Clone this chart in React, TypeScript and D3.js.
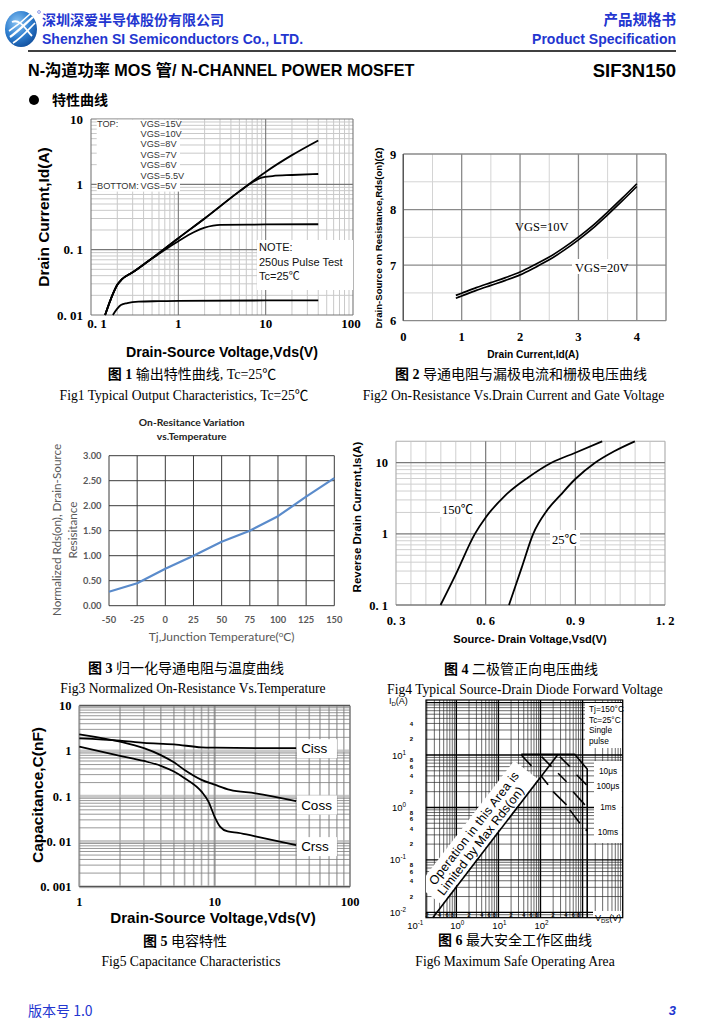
import React from 'react';
import * as d3 from 'd3';

type P = [number, number];
type Seg = [P, P];

const SERIF = "'Liberation Serif','DejaVu Serif',serif";
const SANS = "'Liberation Sans',Arial,'DejaVu Sans',sans-serif";
const CJK = "'Noto Sans CJK SC','Noto Sans',sans-serif";
const CAP = "'Liberation Serif','Noto Sans CJK SC',serif";
const XL = "Lato,'Open Sans',sans-serif";
const BLUE = '#2336d0';

// ---------------- header / footer text ----------------
const companyCn = '深圳深爱半导体股份有限公司';
const companyEn = 'Shenzhen SI Semiconductors Co., LTD.';
const docCn = '产品规格书';
const docEn = 'Product Specification';
const productTitle = 'N-沟道功率 MOS 管/ N-CHANNEL POWER MOSFET';
const partNo = 'SIF3N150';
const sectionTitle = '特性曲线';
const versionText = '版本号 1.0';
const pageNo = '3';

// ---------------- captions ----------------
const captionNums = ['1', '2', '3', '4', '5', '6'];
const captionCn = [
  '输出特性曲线, Tc=25℃',
  '导通电阻与漏极电流和栅极电压曲线',
  '归一化导通电阻与温度曲线',
  '二极管正向电压曲线',
  '电容特性',
  '最大安全工作区曲线',
];
const captionEn = [
  'Fig1 Typical Output Characteristics, Tc=25℃',
  'Fig2 On-Resistance Vs.Drain Current and Gate Voltage',
  'Fig3 Normalized On-Resistance Vs.Temperature',
  'Fig4 Typical Source-Drain Diode Forward Voltage',
  'Fig5 Capacitance Characteristics',
  'Fig6 Maximum Safe Operating Area',
];

// ---------------- Fig 1 : output characteristics ----------------
const fig1XTicks = [0.1, 1, 10, 100];
const fig1XLabels = ['0. 1', '1', '10', '100'];
const fig1YTicks = [0.01, 0.1, 1, 10];
const fig1YLabels = ['0. 01', '0. 1', '1', '10'];
const fig1LegendVgs = ['VGS=15V', 'VGS=10V', 'VGS=8V', 'VGS=7V', 'VGS=6V', 'VGS=5.5V', 'VGS=5V'];
const fig1Note = ['NOTE:', '250us Pulse Test', 'Tc=25℃'];
const fig1IdHigh: P[] = [[0.145, 0.01], [0.17, 0.018], [0.2, 0.029], [0.225, 0.035], [0.3, 0.045], [0.5, 0.074], [1, 0.15], [2, 0.3], [5, 0.78], [10, 1.55], [20, 2.8], [40, 4.7]];
const fig1Id6: P[] = [[0.145, 0.01], [0.17, 0.018], [0.2, 0.029], [0.225, 0.035], [0.3, 0.045], [0.5, 0.074], [1, 0.15], [2, 0.3], [5, 0.78], [7, 1.07], [9, 1.27], [12, 1.34], [20, 1.39], [40, 1.44]];
const fig1Id55: P[] = [[0.145, 0.01], [0.17, 0.018], [0.2, 0.029], [0.225, 0.035], [0.3, 0.045], [0.5, 0.073], [0.8, 0.112], [1, 0.135], [1.5, 0.185], [2, 0.218], [2.5, 0.234], [3, 0.24], [10, 0.243], [40, 0.245]];
const fig1Id5: P[] = [[0.178, 0.01], [0.2, 0.0125], [0.22, 0.0142], [0.26, 0.0152], [0.35, 0.016], [0.6, 0.0163], [1, 0.0165], [10, 0.0167], [40, 0.0168]];

// ---------------- Fig 2 : Rds(on) vs Id ----------------
const fig2XTicks = [0, 1, 2, 3, 4];
const fig2YTicks = [6, 7, 8, 9];
const fig2Id = [0.9, 1, 1.25, 1.5, 1.75, 2, 2.25, 2.5, 2.75, 3, 3.25, 3.5, 3.75, 4];
const fig2RdsVgs10 = [6.455, 6.495, 6.595, 6.685, 6.775, 6.875, 7.005, 7.145, 7.315, 7.505, 7.715, 7.955, 8.205, 8.465];
const fig2RdsVgs20 = [6.405, 6.445, 6.545, 6.635, 6.725, 6.825, 6.955, 7.095, 7.265, 7.455, 7.665, 7.905, 8.155, 8.415];
const fig2Labels = ['VGS=10V', 'VGS=20V'];

// ---------------- Fig 3 : normalized Rds(on) vs Tj ----------------
const fig3Temp = [-50, -25, 0, 25, 50, 75, 100, 125, 150];
const fig3Rds = [0.28, 0.45, 0.74, 1.0, 1.28, 1.5, 1.79, 2.18, 2.55];
const fig3YTicks = [0, 0.5, 1, 1.5, 2, 2.5, 3];

// ---------------- Fig 4 : diode forward voltage ----------------
const fig4XTicks = [0.3, 0.6, 0.9, 1.2];
const fig4XLabels = ['0. 3', '0. 6', '0. 9', '1. 2'];
const fig4YTicks = [0.1, 1, 10];
const fig4YLabels = ['0. 1', '1', '10'];
const fig4Is150: P[] = [[0.449, 0.1], [0.5, 0.27], [0.564, 1], [0.6, 1.7], [0.665, 3.45], [0.742, 6.2], [0.82, 10], [0.9, 13.8], [0.99, 20]];
const fig4Is25: P[] = [[0.678, 0.1], [0.72, 0.33], [0.759, 1], [0.804, 2.1], [0.85, 3.5], [0.9, 5.9], [0.966, 10], [1.03, 14.5], [1.099, 20]];
const fig4Labels = ['150℃', '25℃'];

// ---------------- Fig 5 : capacitance ----------------
const fig5XTicks = [1, 10, 100];
const fig5XLabels = ['1', '10', '100'];
const fig5YTicks = [0.001, 0.01, 0.1, 1, 10];
const fig5YLabels = ['0. 001', '0. 01', '0. 1', '1', '10'];
const fig5Ciss: P[] = [[1, 1.9], [2, 1.69], [3, 1.51], [5, 1.4], [8, 1.2], [10, 1.18], [20, 1.16], [40, 1.15]];
const fig5Coss: P[] = [[1, 2.33], [2, 1.6], [3, 1.15], [4, 0.81], [5, 0.56], [6, 0.38], [8, 0.23], [10, 0.18], [13, 0.138], [20, 0.116], [40, 0.078]];
const fig5Crss: P[] = [[1, 1.24], [2, 0.78], [3, 0.6], [4, 0.47], [5, 0.35], [6, 0.25], [8, 0.126], [9, 0.076], [10, 0.035], [11, 0.021], [12.5, 0.0166], [15, 0.0155], [20, 0.013], [40, 0.0083]];
const fig5Names = ['Ciss', 'Coss', 'Crss'];

// ---------------- Fig 6 : safe operating area ----------------
const fig6XMajorExp = [-1, 0, 1, 2];
const fig6YMajorExp = [-2, -1, 0, 1];
const fig6XMinorVals = [0.2, 0.4, 0.6, 0.8, 2, 4, 6, 8, 20, 40, 60, 80, 200, 400, 600, 800];
const fig6YMinorVals = [40, 20, 8, 6, 4, 2, 0.8, 0.6, 0.4, 0.2, 0.08, 0.06, 0.04, 0.02];
const fig6Boundary: P[] = [[35, 10.3], [650, 10.3], [1290, 5.4], [1290, 0.0079]];
const fig6RdsLimit: P[] = [[0.275, 0.0079], [262, 10.3]];
const fig6PulseLines: Seg[] = [
  [[35, 10], [61, 6.2]],
  [[106, 9.3], [183, 6.0]],
  [[106, 3.9], [152, 2.7]],
  [[288, 9.3], [499, 6.0]],
  [[262, 4.5], [416, 3.1]],
  [[719, 4.2], [1245, 2.7]],
  [[200, 2.0], [416, 1.12]],
  [[597, 2.0], [1135, 1.12]],
  [[499, 0.9], [863, 0.5]],
];
const fig6Dot: P = [1245, 0.37];
const fig6Conditions = ['Tj=150°C', 'Tc=25°C', 'Single', 'pulse'];
const fig6PulseLabels = ['10μs', '100μs', '1ms', '10ms'];
const fig6RegionText = ['Operation in this Area is', 'Limited by Max Rds(on)'];

// ---------------- helpers ----------------
function gridVals(lo: number, hi: number) {
  const out: { v: number; major: boolean }[] = [];
  const e0 = Math.floor(Math.log10(lo) + 1e-9);
  const e1 = Math.ceil(Math.log10(hi) - 1e-9);
  for (let e = e0; e <= e1; e++) {
    for (let k = 1; k <= 9; k++) {
      const v = k * Math.pow(10, e);
      if (v >= lo * (1 - 1e-9) && v <= hi * (1 + 1e-9)) out.push({ v, major: k === 1 });
    }
  }
  return out;
}
function leadDigit(v: number) {
  return String(Math.round(v / Math.pow(10, Math.floor(Math.log10(v) + 1e-9))));
}

function Caption({ i, cx1, cx2, y1, y2 }: { i: number; cx1: number; cx2: number; y1: number; y2: number }) {
  return (
    <g fill="#000">
      <text x={cx1} y={y1} textAnchor="middle" fontFamily={CAP} fontSize={14}>
        <tspan fontWeight="bold" fontFamily={CJK}>图</tspan>
        <tspan fontWeight="bold"> {captionNums[i]} </tspan>
        <tspan>{captionCn[i]}</tspan>
      </text>
      <text x={cx2} y={y2} textAnchor="middle" fontFamily={CAP} fontSize={13.6}>
        {captionEn[i]}
      </text>
    </g>
  );
}

// ---------------- header ----------------
function Header() {
  return (
    <g>
      <defs>
        <radialGradient id="logoG" cx="38%" cy="32%" r="75%">
          <stop offset="0" stopColor="#8cc4f2" />
          <stop offset="0.55" stopColor="#2f7fd0" />
          <stop offset="1" stopColor="#104c9a" />
        </radialGradient>
        <linearGradient id="ruleG" x1="0" x2="1" y1="0" y2="0">
          <stop offset="0" stopColor="#000" />
          <stop offset="0.75" stopColor="#333" />
          <stop offset="1" stopColor="#999" />
        </linearGradient>
      </defs>
      <ellipse cx={21} cy={29} rx={16} ry={18} fill="url(#logoG)" />
      <path d="M10,37 C16,33 22,27 33,17" stroke="#fff" strokeWidth={2.2} fill="none" />
      <path d="M9,31 C15,27 22,22 30,14" stroke="#fff" strokeWidth={1.6} fill="none" />
      <path d="M13,43 C20,39 27,31 35,23" stroke="#fff" strokeWidth={1.6} fill="none" />
      <path d="M12,22 C20,18 26,30 32,36" stroke="#fff" strokeWidth={1.8} fill="none" />
      <circle cx={39} cy={12} r={1.4} fill="none" stroke={BLUE} strokeWidth={0.5} />

      <text x={42} y={25} fontFamily={CJK} fontWeight="bold" fontSize={14} fill={BLUE}>{companyCn}</text>
      <text x={42} y={44} fontFamily={SANS} fontWeight="bold" fontSize={14} fill={BLUE}>{companyEn}</text>
      <text x={676} y={25} textAnchor="end" fontFamily={CJK} fontWeight="bold" fontSize={14.5} fill={BLUE}>{docCn}</text>
      <text x={676} y={44} textAnchor="end" fontFamily={SANS} fontWeight="bold" fontSize={14} fill={BLUE}>{docEn}</text>
      <line x1={28} x2={676} y1={51} y2={51} stroke="#000" strokeWidth={1.4} />

      <text x={28} y={76} fontFamily={`${SANS.split(',')[0]},${CJK}`} fontWeight="bold" fontSize={16.2} fill="#000">{productTitle}</text>
      <text x={676} y={77} textAnchor="end" fontFamily={SANS} fontWeight="bold" fontSize={18.5} fill="#000">{partNo}</text>
      <line x1={28} x2={676} y1={83} y2={83} stroke="url(#ruleG)" strokeWidth={2.4} />

      <circle cx={34} cy={100} r={5} fill="#000" />
      <text x={52} y={105} fontFamily={CJK} fontWeight="bold" fontSize={14} fill="#000">{sectionTitle}</text>
    </g>
  );
}

function Footer() {
  return (
    <g>
      <line x1={28} x2={676} y1={997} y2={997} stroke="url(#ruleG)" strokeWidth={2} />
      <text x={28} y={1016} fontFamily={CJK} fontSize={14} fill={BLUE}>{versionText}</text>
      <text x={676} y={1015} textAnchor="end" fontFamily={SANS} fontWeight="bold" fontStyle="italic" fontSize={13} fill={BLUE}>{pageNo}</text>
    </g>
  );
}

// ---------------- Fig 1 ----------------
function Fig1() {
  const x = d3.scaleLog().domain([0.1, 100]).range([91, 353]);
  const y = d3.scaleLog().domain([0.01, 10]).range([315, 119]);
  const ln = d3.line<P>().x(d => x(d[0])).y(d => y(d[1])).curve(d3.curveMonotoneX);
  const gx = gridVals(0.1, 100);
  const gy = gridVals(0.01, 10);
  const [xa, xb] = x.range();
  const [ya, yb] = y.range();
  return (
    <g>
      {gx.filter(d => !d.major).map((d, i) => (
        <line key={'a' + i} x1={x(d.v)} x2={x(d.v)} y1={yb} y2={ya} stroke="#c9c9c9" strokeWidth={1} />
      ))}
      {gy.filter(d => !d.major).map((d, i) => (
        <line key={'b' + i} x1={xa} x2={xb} y1={y(d.v)} y2={y(d.v)} stroke="#c9c9c9" strokeWidth={1} />
      ))}
      {gx.filter(d => d.major).map((d, i) => (
        <line key={'c' + i} x1={x(d.v)} x2={x(d.v)} y1={yb} y2={ya} stroke="#777" strokeWidth={1.1} />
      ))}
      {gy.filter(d => d.major).map((d, i) => (
        <line key={'d' + i} x1={xa} x2={xb} y1={y(d.v)} y2={y(d.v)} stroke="#777" strokeWidth={1.1} />
      ))}
      {/* legend */}
      <rect x={96.7} y={119.6} width={83.3} height={72} fill="#fff" />
      <text x={97} y={126.5} fontFamily={SANS} fontSize={9.2} fill="#333">TOP:</text>
      <text x={97} y={126.5 + 6 * 10.45} fontFamily={SANS} fontSize={9.2} fill="#333">BOTTOM:</text>
      {fig1LegendVgs.map((t, i) => (
        <text key={t} x={140.5} y={126.5 + i * 10.45} fontFamily={SANS} fontSize={9.2} fill="#333">{t}</text>
      ))}
      {/* note */}
      <rect x={257} y={240} width={96} height={50} fill="#fff" />
      {fig1Note.map((t, i) => (
        <text key={t} x={259} y={251 + i * 14.5} fontFamily={t.includes('℃') ? `${SANS.split(',')[0]},${CJK}` : SANS} fontSize={11} fill="#111">{t}</text>
      ))}
      {/* curves */}
      {[fig1IdHigh, fig1Id6, fig1Id55, fig1Id5].map((s, i) => (
        <path key={'s' + i} d={ln(s) || ''} fill="none" stroke="#000" strokeWidth={1.8} />
      ))}
      {/* ticks */}
      {fig1YTicks.map((v, i) => (
        <text key={'yt' + i} x={83} y={y(v) + 4.5} textAnchor="end" fontFamily={SERIF} fontWeight="bold" fontSize={13}>{fig1YLabels[i]}</text>
      ))}
      {fig1XTicks.map((v, i) => (
        <text key={'xt' + i} x={x(v) + (i === 0 ? 6 : i === 3 ? -2 : 0)} y={328} textAnchor="middle" fontFamily={SERIF} fontWeight="bold" fontSize={13}>{fig1XLabels[i]}</text>
      ))}
      <text transform="translate(49,217) rotate(-90)" textAnchor="middle" fontFamily={SANS} fontWeight="bold" fontSize={15.5}>Drain Current,Id(A)</text>
      <text x={222} y={357} textAnchor="middle" fontFamily={SANS} fontWeight="bold" fontSize={14.2}>Drain-Source Voltage,Vds(V)</text>
    </g>
  );
}

// ---------------- Fig 2 ----------------
function Fig2() {
  const x = d3.scaleLinear().domain([0, 4.5]).range([403.3, 666]);
  const y = d3.scaleLinear().domain([6, 9]).range([320.7, 154]);
  const gx = d3.range(0, 4.5001, 0.5);
  const gy = d3.range(6, 9.0001, 0.5);
  const ln = d3.line<number>().x((d, i) => x(fig2Id[i])).y(d => y(d)).curve(d3.curveMonotoneX);
  const isInt = (v: number) => Math.abs(v - Math.round(v)) < 1e-6;
  return (
    <g>
      {gx.filter(v => !isInt(v)).map((v, i) => (
        <line key={'a' + i} x1={x(v)} x2={x(v)} y1={y(9)} y2={y(6)} stroke="#d4d4d4" strokeWidth={1} />
      ))}
      {gy.filter(v => !isInt(v)).map((v, i) => (
        <line key={'b' + i} x1={x(0)} x2={x(4.5)} y1={y(v)} y2={y(v)} stroke="#d4d4d4" strokeWidth={1} />
      ))}
      {gx.filter(v => isInt(v)).map((v, i) => (
        <line key={'c' + i} x1={x(v)} x2={x(v)} y1={y(9)} y2={y(6)} stroke="#8a8a8a" strokeWidth={1.3} />
      ))}
      {gy.filter(v => isInt(v)).map((v, i) => (
        <line key={'d' + i} x1={x(0)} x2={x(4.5)} y1={y(v)} y2={y(v)} stroke="#8a8a8a" strokeWidth={1.3} />
      ))}
      <line x1={x(4.5)} x2={x(4.5)} y1={y(9)} y2={y(6)} stroke="#8a8a8a" strokeWidth={1.3} />
      <line x1={x(0)} x2={x(0)} y1={y(9)} y2={y(6)} stroke="#555" strokeWidth={1.3} />
      <path d={ln(fig2RdsVgs10) || ''} fill="none" stroke="#000" strokeWidth={1.7} />
      <path d={ln(fig2RdsVgs20) || ''} fill="none" stroke="#000" strokeWidth={1.7} />
      <text x={515} y={231} fontFamily={SERIF} fontSize={12.5}>{fig2Labels[0]}</text>
      <rect x={572} y={259} width={52} height={15} fill="#fff" />
      <text x={575} y={272} fontFamily={SERIF} fontSize={12.5}>{fig2Labels[1]}</text>
      {fig2YTicks.map(v => (
        <text key={'yt' + v} x={393} y={y(v) + 4.5} textAnchor="middle" fontFamily={SERIF} fontWeight="bold" fontSize={12.5}>{v}</text>
      ))}
      {fig2XTicks.map(v => (
        <text key={'xt' + v} x={x(v)} y={341} textAnchor="middle" fontFamily={SERIF} fontWeight="bold" fontSize={12.5}>{v}</text>
      ))}
      <text transform="translate(382,238) rotate(-90)" textAnchor="middle" fontFamily={SANS} fontWeight="bold" fontSize={9.6}>Drain-Source on Resistance,Rds(on)(Ω)</text>
      <text x={533} y={358} textAnchor="middle" fontFamily={SANS} fontWeight="bold" fontSize={10.2}>Drain Current,Id(A)</text>
    </g>
  );
}

// ---------------- Fig 3 ----------------
function Fig3() {
  const x = d3.scaleLinear().domain([-50, 150]).range([109, 334.3]);
  const y = d3.scaleLinear().domain([0, 3]).range([605.7, 455.7]);
  const ln = d3.line<number>().x((d, i) => x(fig3Temp[i])).y(d => y(d));
  const fmt = d3.format('.2f');
  const gray = '#595959';
  return (
    <g>
      <text x={191.7} y={426} textAnchor="middle" fontFamily={XL} fontWeight="bold" fontSize={10.3} fill="#222">On-Resitance Variation</text>
      <text x={191.7} y={440} textAnchor="middle" fontFamily={XL} fontWeight="bold" fontSize={10.3} fill="#222">vs.Temperature</text>
      {fig3Temp.map(v => (
        <line key={'v' + v} x1={x(v)} x2={x(v)} y1={y(3)} y2={y(0)} stroke="#3a3a3a" strokeWidth={1} />
      ))}
      {fig3YTicks.map(v => (
        <line key={'h' + v} x1={x(-50)} x2={x(150)} y1={y(v)} y2={y(v)} stroke="#3a3a3a" strokeWidth={1} />
      ))}
      <path d={ln(fig3Rds) || ''} fill="none" stroke="#5a8bcb" strokeWidth={2.2} strokeLinejoin="round" />
      {fig3YTicks.map(v => (
        <text key={'yl' + v} x={101.5} y={y(v) + 3.3} textAnchor="end" fontFamily={XL} fontWeight="bold" fontSize={9.3} fill={gray}>{fmt(v)}</text>
      ))}
      {fig3Temp.map(v => (
        <text key={'xl' + v} x={x(v)} y={622.5} textAnchor="middle" fontFamily={XL} fontWeight="bold" fontSize={9.3} fill={gray}>{v}</text>
      ))}
      <text x={221.7} y={641} textAnchor="middle" fontFamily={XL} fontSize={12} fill={gray}>Tj,Junction Temperature(<tspan fontSize={8} dy={-4}>o</tspan><tspan dy={4}>C)</tspan></text>
      <text transform="translate(61,530) rotate(-90)" textAnchor="middle" fontFamily={XL} fontSize={11.7} fill={gray}>Normalized Rds(on), Drain-Source</text>
      <text transform="translate(76.5,530) rotate(-90)" textAnchor="middle" fontFamily={XL} fontSize={11.7} fill={gray}>Resisitance</text>
    </g>
  );
}

// ---------------- Fig 4 ----------------
function Fig4() {
  const x = d3.scaleLinear().domain([0.3, 1.2]).range([396, 665]);
  const y = d3.scaleLog().domain([0.1, 20]).range([605, 441.3]);
  const gx = d3.range(0.3, 1.2001, 0.05);
  const gy = gridVals(0.1, 20);
  const ln = d3.line<P>().x(d => x(d[0])).y(d => y(d[1])).curve(d3.curveMonotoneX);
  const isMajorX = (v: number) => fig4XTicks.some(t => Math.abs(t - v) < 1e-6);
  const [ya, yb] = y.range();
  return (
    <g>
      {gx.filter(v => !isMajorX(v)).map((v, i) => (
        <line key={'a' + i} x1={x(v)} x2={x(v)} y1={yb} y2={ya} stroke="#cfcfcf" strokeWidth={1} />
      ))}
      {gy.filter(d => !d.major).map((d, i) => (
        <line key={'b' + i} x1={x(0.3)} x2={x(1.2)} y1={y(d.v)} y2={y(d.v)} stroke="#cfcfcf" strokeWidth={1} />
      ))}
      <line x1={x(0.3)} x2={x(1.2)} y1={yb} y2={yb} stroke="#bdbdbd" strokeWidth={1} />
      {gx.filter(v => isMajorX(v)).map((v, i) => (
        <line key={'c' + i} x1={x(v)} x2={x(v)} y1={yb} y2={ya} stroke={i === 0 || i === 3 ? '#b0b0b0' : '#7a7a7a'} strokeWidth={1.2} />
      ))}
      {gy.filter(d => d.major).map((d, i) => (
        <line key={'d' + i} x1={x(0.3)} x2={x(1.2)} y1={y(d.v)} y2={y(d.v)} stroke="#7a7a7a" strokeWidth={1.3} />
      ))}
      <path d={ln(fig4Is150) || ''} fill="none" stroke="#000" strokeWidth={1.8} />
      <path d={ln(fig4Is25) || ''} fill="none" stroke="#000" strokeWidth={1.8} />
      <rect x={440} y={501} width={35} height={16} fill="#fff" />
      <text x={442} y={514} fontFamily={CAP} fontSize={12.5}>{fig4Labels[0]}</text>
      <rect x={550} y={530} width={30} height={16} fill="#fff" />
      <text x={552} y={543.5} fontFamily={CAP} fontSize={12.5}>{fig4Labels[1]}</text>
      {fig4YTicks.map((v, i) => (
        <text key={'yt' + i} x={388} y={y(v) + 4.5} textAnchor="end" fontFamily={SERIF} fontWeight="bold" fontSize={12.5}>{fig4YLabels[i]}</text>
      ))}
      {fig4XTicks.map((v, i) => (
        <text key={'xt' + i} x={x(v)} y={625} textAnchor="middle" fontFamily={SERIF} fontWeight="bold" fontSize={12.5}>{fig4XLabels[i]}</text>
      ))}
      <text transform="translate(361,517) rotate(-90)" textAnchor="middle" fontFamily={SANS} fontWeight="bold" fontSize={11.5}>Reverse Drain Current,Is(A)</text>
      <text x={530} y={643} textAnchor="middle" fontFamily={SANS} fontWeight="bold" fontSize={11.1}>Source- Drain Voltage,Vsd(V)</text>
    </g>
  );
}

// ---------------- Fig 5 ----------------
function Fig5() {
  const x = d3.scaleLog().domain([1, 100]).range([79.3, 350]);
  const y = d3.scaleLog().domain([0.001, 10]).range([886.7, 705.7]);
  const gx = gridVals(1, 100);
  const gy = gridVals(0.001, 10);
  const ln = d3.line<P>().x(d => x(d[0])).y(d => y(d[1])).curve(d3.curveMonotoneX);
  const [ya, yb] = y.range();
  const [xa, xb] = x.range();
  const series = [fig5Ciss, fig5Coss, fig5Crss];
  const labelDy = [0, 3.5, 1];
  return (
    <g>
      {gy.filter(d => d.major).map((d, i) => (
        <line key={'d' + i} x1={xa} x2={xb} y1={y(d.v)} y2={y(d.v)} stroke="#c8c8c8" strokeWidth={3} />
      ))}
      {gx.map((d, i) => (
        <line key={'a' + i} x1={x(d.v)} x2={x(d.v)} y1={yb} y2={ya} stroke={d.major ? '#9a9a9a' : '#b0b0b0'} strokeWidth={d.major ? 2 : 1.6} />
      ))}
      {gy.filter(d => !d.major).map((d, i) => (
        <line key={'b' + i} x1={xa} x2={xb} y1={y(d.v)} y2={y(d.v)} stroke="#7d7d7d" strokeWidth={0.8} />
      ))}
      <line x1={xa} x2={xb} y1={yb} y2={yb} stroke="#555" strokeWidth={1.2} />
      <line x1={xa} x2={xb} y1={ya} y2={ya} stroke="#555" strokeWidth={1.2} />
      {series.map((s, i) => (
        <path key={'s' + i} d={ln(s) || ''} fill="none" stroke="#000" strokeWidth={1.8} />
      ))}
      {series.map((s, i) => {
        const last = s[s.length - 1];
        const cy = y(last[1]) + labelDy[i];
        return (
          <g key={'l' + i}>
            <rect x={x(last[0]) + 0.8} y={cy - 9} width={40} height={19} fill="#fff" />
            <text x={x(last[0]) + 5} y={cy + 5} fontFamily={SANS} fontSize={13.5}>{fig5Names[i]}</text>
          </g>
        );
      })}
      {fig5YTicks.map((v, i) => (
        <text key={'yt' + i} x={71.5} y={y(v) + 4.5} textAnchor="end" fontFamily={SERIF} fontWeight="bold" fontSize={12.5}>{fig5YLabels[i]}</text>
      ))}
      {fig5XTicks.map((v, i) => (
        <text key={'xt' + i} x={x(v)} y={906} textAnchor="middle" fontFamily={SERIF} fontWeight="bold" fontSize={12.5}>{fig5XLabels[i]}</text>
      ))}
      <text transform="translate(42.5,795) rotate(-90)" textAnchor="middle" fontFamily={SANS} fontWeight="bold" fontSize={15.5}>Capacitance,C(nF)</text>
      <text x={213} y={923} textAnchor="middle" fontFamily={SANS} fontWeight="bold" fontSize={15.2}>Drain-Source Voltage,Vds(V)</text>
    </g>
  );
}

// ---------------- Fig 6 ----------------
function Fig6() {
  const x = d3.scaleLog().domain([0.19, 9000]).range([426, 622.7]);
  const y = d3.scaleLog().domain([0.0079, 112]).range([917.7, 700]);
  const gx = gridVals(0.19, 9000);
  const gy = gridVals(0.0079, 112);
  const ln = d3.line<P>().x(d => x(d[0])).y(d => y(d[1]));
  const [xa, xb] = x.range();
  const [ya, yb] = y.range();
  const p0: P = [x(fig6RdsLimit[0][0]), y(fig6RdsLimit[0][1])];
  const p1: P = [x(fig6RdsLimit[1][0]), y(fig6RdsLimit[1][1])];
  const ang = (Math.atan2(p1[1] - p0[1], p1[0] - p0[0]) * 180) / Math.PI;
  return (
    <g>
      <defs>
        <clipPath id="soaClip">
          <rect x={xa} y={yb} width={xb - xa} height={ya - yb} />
        </clipPath>
      </defs>
      {gx.filter(d => !d.major).map((d, i) => (
        <line key={'a' + i} x1={x(d.v)} x2={x(d.v)} y1={yb} y2={ya} stroke="#2a2a2a" strokeWidth={0.7} />
      ))}
      {gy.filter(d => !d.major).map((d, i) => (
        <line key={'b' + i} x1={xa} x2={xb} y1={y(d.v)} y2={y(d.v)} stroke="#2a2a2a" strokeWidth={0.7} />
      ))}
      {gx.filter(d => d.major).map((d, i) => (
        <line key={'c' + i} x1={x(d.v)} x2={x(d.v)} y1={yb} y2={ya} stroke="#000" strokeWidth={1.4} />
      ))}
      {gy.filter(d => d.major).map((d, i) => (
        <line key={'d' + i} x1={xa} x2={xb} y1={y(d.v)} y2={y(d.v)} stroke="#000" strokeWidth={1.4} />
      ))}
      <rect x={xa} y={yb} width={xb - xa} height={ya - yb} fill="none" stroke="#000" strokeWidth={1.2} />
      {/* white label boxes */}
      <rect x={585} y={703} width={xb - 585 - 0.8} height={45} fill="#fff" />
      <rect x={594} y={761} width={xb - 594 - 0.8} height={82} fill="#fff" />
      <rect x={593} y={911} width={xb - 593 - 0.8} height={6} fill="#fff" />
      {/* region text band */}
      <g clipPath="url(#soaClip)">
        <g transform={`translate(${p0[0]},${p0[1]}) rotate(${ang})`}>
          <rect x={16} y={-31} width={158} height={30} fill="#fff" />
          <text x={96} y={-17.5} textAnchor="middle" fontFamily={SANS} fontSize={12.5} textLength={139} fill="#000">{fig6RegionText[0]}</text>
          <text x={90} y={-4.5} textAnchor="middle" fontFamily={SANS} fontSize={12.5} textLength={133} fill="#000">{fig6RegionText[1]}</text>
        </g>
      </g>
      {/* limits */}
      <path d={ln(fig6Boundary) || ''} fill="none" stroke="#000" strokeWidth={1.6} />
      <path d={ln(fig6RdsLimit) || ''} fill="none" stroke="#000" strokeWidth={1.6} />
      {fig6PulseLines.map((s, i) => (
        <path key={'p' + i} d={ln(s) || ''} fill="none" stroke="#000" strokeWidth={1.6} />
      ))}
      <circle cx={x(fig6Dot[0])} cy={y(fig6Dot[1])} r={1.2} fill="#000" />
      {/* label texts */}
      {fig6Conditions.map((t, i) => (
        <text key={t} x={589} y={712 + i * 10.5} fontFamily={SANS} fontSize={8.3}>{t}</text>
      ))}
      {fig6PulseLabels.map((t, i) => (
        <text key={t} x={608} y={[774, 788.5, 809.5, 835][i]} textAnchor="middle" fontFamily={SANS} fontSize={8.3}>{t}</text>
      ))}
      {/* axes labels */}
      <text x={389} y={704} fontFamily={SANS} fontSize={9}>I<tspan fontSize={6} dy={2}>D</tspan><tspan dy={-2}>(A)</tspan></text>
      {fig6YMajorExp.map(e => (
        <text key={'ym' + e} x={406} y={y(Math.pow(10, e)) + 3.5} textAnchor="end" fontFamily={SANS} fontSize={9.5}>10<tspan fontSize={6.3} dy={-4}>{e}</tspan></text>
      ))}
      {fig6YMinorVals.map(v => (
        <text key={'yn' + v} x={411.5} y={y(v) + 2.2} textAnchor="middle" fontFamily={SANS} fontWeight="bold" fontSize={6}>{leadDigit(v)}</text>
      ))}
      {fig6XMajorExp.map(e => (
        <text key={'xm' + e} x={x(Math.pow(10, e)) + 1} y={929} textAnchor="middle" fontFamily={SANS} fontSize={9.5}>10<tspan fontSize={6.3} dy={-4}>{e}</tspan></text>
      ))}
      {fig6XMinorVals.map(v => (
        <text key={'xn' + v} x={x(v)} y={916.5} textAnchor="middle" fontFamily={SANS} fontWeight="bold" fontSize={5.5}>{leadDigit(v)}</text>
      ))}
      <text x={595} y={921} fontFamily={SANS} fontSize={9}>V<tspan fontSize={6} dy={2}>DS</tspan><tspan dy={-2}>(V)</tspan></text>
    </g>
  );
}

export default function App() {
  return (
    <svg
      width={704}
      height={1030}
      viewBox="0 0 704 1030"
      style={{ position: 'absolute', left: 0, top: 0, display: 'block' }}
      xmlns="http://www.w3.org/2000/svg"
    >
      <rect x={0} y={0} width={704} height={1030} fill="#fff" />
      <Header />
      <Fig1 />
      <Fig2 />
      <Fig3 />
      <Fig4 />
      <Fig5 />
      <Fig6 />
      <Caption i={0} cx1={192} cx2={184} y1={379} y2={400} />
      <Caption i={1} cx1={521} cx2={513.5} y1={379} y2={400} />
      <Caption i={2} cx1={186} cx2={193} y1={673} y2={693} />
      <Caption i={3} cx1={521} cx2={525} y1={674} y2={694} />
      <Caption i={4} cx1={185} cx2={191} y1={946} y2={966} />
      <Caption i={5} cx1={515} cx2={515} y1={945} y2={966} />
      <Footer />
    </svg>
  );
}
